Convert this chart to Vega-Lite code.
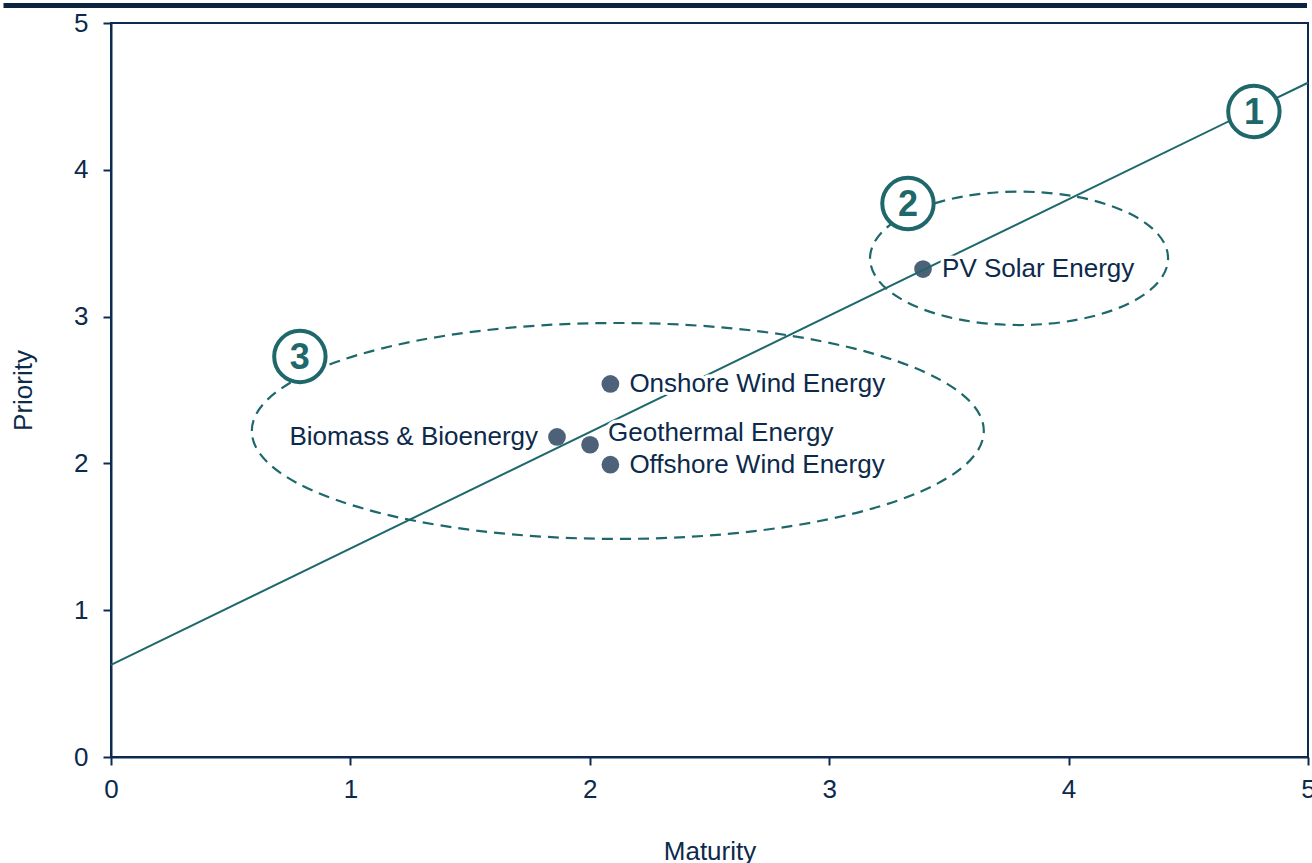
{
  "$schema": "https://vega.github.io/schema/vega-lite/v6.json",
  "padding": {"top": 2, "left": 0, "right": 0, "bottom": 0},
  "background": "white",
  "columns": 1,
  "spacing": 0,
  "datasets": {
    "energy": [
      {"name": "PV Solar Energy", "x": 3.392, "y": 3.324},
      {"name": "Onshore Wind Energy", "x": 2.086, "y": 2.541},
      {"name": "Geothermal Energy", "x": 2.001, "y": 2.127},
      {"name": "Offshore Wind Energy", "x": 2.086, "y": 1.991},
      {"name": "Biomass & Bioenergy", "x": 1.863, "y": 2.18}
    ],
    "trend": [
      {"x": 0, "y": 0.627},
      {"x": 5, "y": 4.593}
    ],
    "clusters": [
      {"cluster": 2, "x": 3.793, "y": 3.397},
      {"cluster": 3, "x": 2.117, "y": 2.221}
    ],
    "badges": [
      {"n": "1", "x": 4.774, "y": 4.397},
      {"n": "2", "x": 3.329, "y": 3.77},
      {"n": "3", "x": 0.789, "y": 2.728}
    ]
  },
  "concat": [
    {
      "width": 1196,
      "height": 5,
      "data": {"values": [{"v": 0.5}]},
      "view": {"stroke": null, "fill": "#0b2540"},
      "mark": {"type": "point", "opacity": 0},
      "encoding": {
        "y": {
          "field": "v",
          "type": "quantitative",
          "scale": {"domain": [0, 1]},
          "axis": {
            "values": [0.5],
            "title": null,
            "labels": false,
            "domain": false,
            "grid": false,
            "tickSize": 108,
            "tickWidth": 5,
            "tickRound": false,
            "tickOffset": -0.5,
            "tickColor": "#0b2540",
            "minExtent": 0
          }
        }
      }
    },
    {
      "width": 1197,
      "height": 734,
      "view": {"stroke": "#0d2b4e", "strokeWidth": 2},
      "encoding": {
        "x": {
          "field": "x",
          "type": "quantitative",
          "scale": {"domain": [0, 5], "nice": false, "zero": false},
          "axis": {
            "title": "Maturity",
            "values": [0, 1, 2, 3, 4, 5],
            "format": "d",
            "grid": false,
            "labelFlush": false,
            "tickSize": 8,
            "labelPadding": 11,
            "titlePadding": 36
          }
        },
        "y": {
          "field": "y",
          "type": "quantitative",
          "scale": {"domain": [0, 5], "nice": false, "zero": false},
          "axis": {
            "title": "Priority",
            "values": [0, 1, 2, 3, 4, 5],
            "format": "d",
            "grid": false,
            "labelFlush": false,
            "tickSize": 8,
            "labelPadding": 15,
            "titlePadding": 37
          }
        }
      },
      "layer": [
        {
          "data": {"name": "clusters"},
          "transform": [{"filter": "datum.cluster === 3"}],
          "mark": {
            "type": "point",
            "shape": "M -1 0 C -1 -0.1629 -0.5523 -0.295 0 -0.295 C 0.5523 -0.295 1 -0.1629 1 0 C 1 0.1629 0.5523 0.295 0 0.295 C -0.5523 0.295 -1 0.1629 -1 0 Z",
            "size": 535824,
            "filled": false,
            "stroke": "#1e686c",
            "strokeWidth": 2.2,
            "strokeDash": [11, 7],
            "opacity": 1
          }
        },
        {
          "data": {"name": "clusters"},
          "transform": [{"filter": "datum.cluster === 2"}],
          "mark": {
            "type": "point",
            "shape": "M -1 0 C -1 -0.2473 -0.5523 -0.4477 0 -0.4477 C 0.5523 -0.4477 1 -0.2473 1 0 C 1 0.2473 0.5523 0.4477 0 0.4477 C -0.5523 0.4477 -1 0.2473 -1 0 Z",
            "size": 88804,
            "filled": false,
            "stroke": "#1e686c",
            "strokeWidth": 2.2,
            "strokeDash": [11, 7],
            "opacity": 1
          }
        },
        {
          "data": {"name": "energy"},
          "mark": {"type": "circle", "size": 314, "color": "#4d6279", "opacity": 1}
        },
        {
          "data": {"name": "trend"},
          "mark": {"type": "line", "color": "#1e686c", "strokeWidth": 2}
        },
        {
          "data": {"name": "badges"},
          "mark": {"type": "circle", "size": 2642, "fill": "white", "stroke": "#1e686c", "strokeWidth": 4, "opacity": 1}
        },
        {
          "data": {"name": "badges"},
          "mark": {"type": "text", "font": "Liberation Sans", "fontSize": 36, "fontWeight": "bold", "color": "#1e686c", "align": "center", "baseline": "middle", "dy": 1},
          "encoding": {"text": {"field": "n"}}
        },
        {
          "data": {"name": "energy"},
          "transform": [{"filter": "datum.name === 'PV Solar Energy' || datum.name === 'Onshore Wind Energy' || datum.name === 'Offshore Wind Energy'"}],
          "mark": {"type": "text", "font": "Liberation Sans", "fontSize": 26, "align": "left", "baseline": "middle", "dx": 19, "stroke": "white", "strokeWidth": 7, "strokeJoin": "round", "fill": "white"},
          "encoding": {"text": {"field": "name"}}
        },
        {
          "data": {"name": "energy"},
          "transform": [{"filter": "datum.name === 'PV Solar Energy' || datum.name === 'Onshore Wind Energy' || datum.name === 'Offshore Wind Energy'"}],
          "mark": {"type": "text", "font": "Liberation Sans", "fontSize": 26, "align": "left", "baseline": "middle", "dx": 19, "color": "#0c2a4b"},
          "encoding": {"text": {"field": "name"}}
        },
        {
          "data": {"name": "energy"},
          "transform": [{"filter": "datum.name === 'Geothermal Energy'"}],
          "mark": {"type": "text", "font": "Liberation Sans", "fontSize": 26, "align": "left", "baseline": "middle", "dx": 18, "dy": -12, "stroke": "white", "strokeWidth": 7, "strokeJoin": "round", "fill": "white"},
          "encoding": {"text": {"field": "name"}}
        },
        {
          "data": {"name": "energy"},
          "transform": [{"filter": "datum.name === 'Geothermal Energy'"}],
          "mark": {"type": "text", "font": "Liberation Sans", "fontSize": 26, "align": "left", "baseline": "middle", "dx": 18, "dy": -12, "color": "#0c2a4b"},
          "encoding": {"text": {"field": "name"}}
        },
        {
          "data": {"name": "energy"},
          "transform": [{"filter": "datum.name === 'Biomass & Bioenergy'"}],
          "mark": {"type": "text", "font": "Liberation Sans", "fontSize": 26, "align": "right", "baseline": "middle", "dx": -19, "color": "#0c2a4b"},
          "encoding": {"text": {"field": "name"}}
        }
      ]
    }
  ],
  "config": {
    "font": "Liberation Sans",
    "axis": {
      "labelFont": "Liberation Sans",
      "labelFontSize": 26,
      "labelColor": "#0c2a4b",
      "titleFont": "Liberation Sans",
      "titleFontSize": 26,
      "titleFontWeight": "normal",
      "titleColor": "#0c2a4b",
      "domainColor": "#0d2b4e",
      "domainWidth": 2,
      "tickColor": "#0d2b4e",
      "tickWidth": 2
    }
  }
}
